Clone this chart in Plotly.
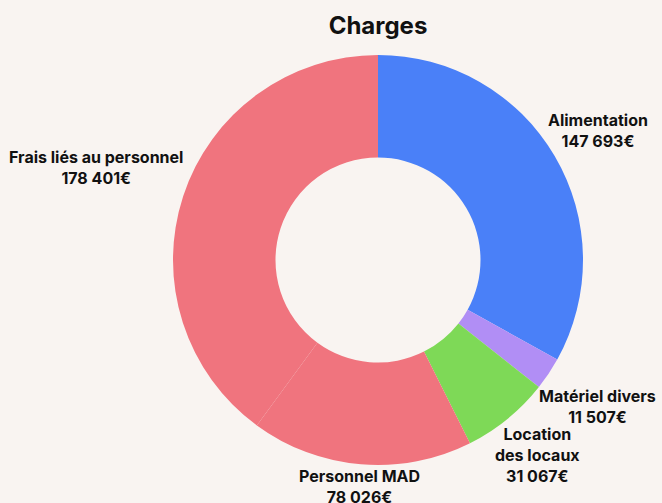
import math
import plotly.graph_objects as go

labels = ["Alimentation", "Matériel divers", "Location<br>des locaux", "Personnel MAD", "Frais liés au personnel"]
values = [147693, 11507, 31067, 78026, 178401]
colors = ["#4a80f8", "#b18ef5", "#7ed957", "#f0747e", "#f0747e"]
currency = "€"

# figure / pie geometry (pixels)
W, H = 662, 503
CX, CY, R = 378, 260, 205
FONT = 16
GAP = 0


def fmt(v):
    return f"{v:,}".replace(",", " ") + currency


def char_w(c):
    if c in "iljI.,'":
        return 4.6
    if c in "tfr ":
        return 6.0
    if c in "mwMW":
        return 14.0
    if c.isdigit():
        return 9.4
    if c == "€":
        return 10.0
    if c.isupper():
        return 11.0
    return 9.4


def text_box(lines):
    w = max(sum(char_w(c) for c in ln) for ln in lines)
    return w / 2, len(lines) * 8.6


fig = go.Figure(go.Pie(
    labels=labels,
    values=values,
    hole=0.5,
    sort=False,
    direction="clockwise",
    rotation=0,
    automargin=False,
    marker=dict(colors=colors, line=dict(width=0)),
    textinfo="none",
    hoverinfo="label+value",
    domain=dict(x=[(CX - R) / W, (CX + R) / W], y=[1 - (CY + R) / H, 1 - (CY - R) / H]),
    showlegend=False,
))

total = sum(values)
cum = 0
annotations = []
for lab, v in zip(labels, values):
    mid = (cum + v / 2) / total * 2 * math.pi
    cum += v
    sx, sy = math.sin(mid), math.cos(mid)  # sy: upward component
    text_lines = lab.split("<br>") + [fmt(v)]
    hw, hh = text_box(text_lines)
    d = R + GAP + hw * abs(sx) + hh * abs(sy)
    px = CX + sx * d
    py = CY - sy * d
    annotations.append(dict(
        x=px / W, y=1 - py / H, xref="paper", yref="paper",
        xanchor="center", yanchor="middle", showarrow=False,
        text="<br>".join(f"<b>{t}</b>" for t in text_lines),
        font=dict(family="Inter", size=FONT, color="#111111"),
        align="center",
    ))

fig.update_layout(
    width=W, height=H,
    paper_bgcolor="#f9f4f1",
    plot_bgcolor="#f9f4f1",
    margin=dict(l=0, r=0, t=0, b=0, autoexpand=False),
    annotations=annotations,
    title=dict(text="<b>Charges</b>", x=CX / W, xanchor="center", y=0.95, yanchor="middle",
               font=dict(family="Inter", size=24, color="#111111")),
)

fig.write_html("out.html", config={"displayModeBar": False},
               post_script="document.body.style.margin='0';document.body.style.overflow='hidden';")
